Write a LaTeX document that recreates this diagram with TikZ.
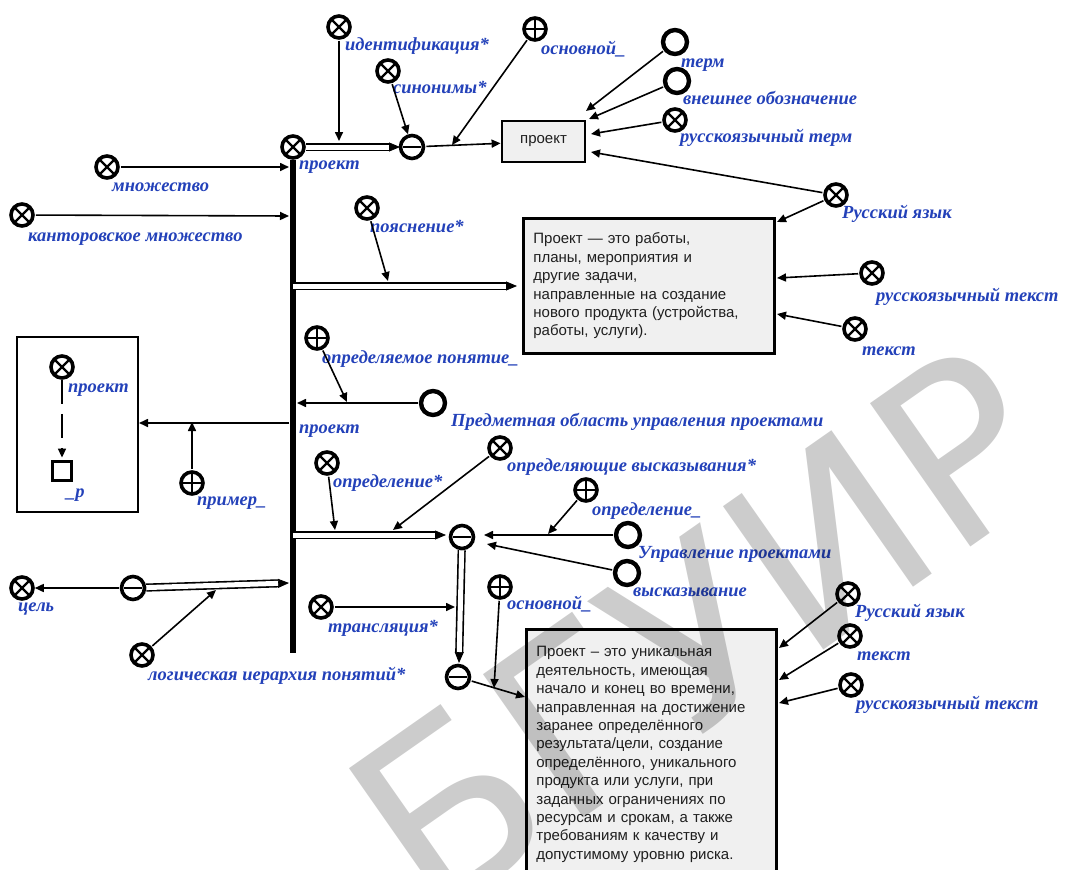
\documentclass[tikz,border=0pt]{standalone}
\usepackage{fontspec}
\setmainfont{Liberation Serif}
\newfontfamily\lblfont{Liberation Serif}
\newfontfamily\boxfont{Liberation Sans}
\newfontfamily\wmfont{DejaVu Sans}
\usetikzlibrary{arrows.meta,calc}
\definecolor{lblblue}{RGB}{35,65,185}
\definecolor{boxgray}{RGB}{240,240,240}
\begin{document}
\begin{tikzpicture}[x=1pt,y=-1pt,
  base/.style={circle,draw,fill=white,inner sep=0pt},
  ndX/.style={base,line width=3.6pt,minimum size=22pt,
    path picture={\draw[line width=2.4pt]
      ([shift={(-7,-7)}]path picture bounding box.center) -- ([shift={(7,7)}]path picture bounding box.center)
      ([shift={(-7,7)}]path picture bounding box.center) -- ([shift={(7,-7)}]path picture bounding box.center);}},
  ndP/.style={base,line width=3.6pt,minimum size=22pt,
    path picture={\draw[line width=2.4pt]
      ([shift={(-9,0)}]path picture bounding box.center) -- ([shift={(9,0)}]path picture bounding box.center)
      ([shift={(0,-9)}]path picture bounding box.center) -- ([shift={(0,9)}]path picture bounding box.center);}},
  ndT/.style={base,line width=3.6pt,minimum size=23pt,
    path picture={\draw[line width=2.8pt]
      ([shift={(-9,0)}]path picture bounding box.center) -- ([shift={(9,0)}]path picture bounding box.center);}},
  ndO/.style={base,line width=4.4pt,minimum size=24pt},
  ndS/.style={draw,fill=white,line width=3.8pt,minimum size=19pt,inner sep=0pt},
  lbl/.style={anchor=base west,inner sep=0pt,text=lblblue,font=\lblfont\bfseries\itshape\fontsize{18.5}{20}\selectfont},
  arc/.style={line width=1.6pt,-{Triangle[length=9pt,width=8pt]},shorten <=1pt},
  dbl/.style={line width=1.6pt,double=white,double distance=5pt},
  dtip/.style={line width=0.8pt,-{Triangle[length=11pt,width=9pt]}},
  txtbox/.style={draw,fill=boxgray,line width=2.8pt,inner sep=10pt,align=left,anchor=north west,
    font=\boxfont\fontsize{15}{18.4}\selectfont,text=black!88},
  bus/.style={line width=6pt}
]
\useasboundingbox (0,0) rectangle (1066,870);
\clip (0,0) rectangle (1066,870);

% ---------- nodes ----------
\node[ndX] (ident) at (339,27) {};
\node[lbl] (lident) at (345,50) {идентификация*};
\node[ndX] (syn) at (388,71) {};
\node[lbl] (lsyn) at (393,93) {синонимы*};
\node[ndP] (osn1) at (535,29) {};
\node[lbl] (losn1) at (541,54) {основной\_};
\node[ndX] (proj) at (293,147) {};
\node[lbl] (lproj) at (299,169) {проект};
\node[ndT] (tup1) at (412,147) {};
\node[draw,fill=boxgray,line width=2.8pt,minimum width=83pt,minimum height=41pt,inner sep=0pt,
  font=\boxfont\fontsize{15}{17}\selectfont,text=black!88] (boxP) at (543.5,141.5) {проект};
\node[ndO] (term) at (675,42) {};
\node[lbl] (lterm) at (681,67) {терм};
\node[ndO] (vnesh) at (677,81) {};
\node[lbl] (lvnesh) at (683,104) {внешнее обозначение};
\node[ndX] (rterm) at (675,120) {};
\node[lbl] (lrterm) at (680,142) {русскоязычный терм};
\node[ndX] (rus1) at (836,195) {};
\node[lbl] (lrus1) at (842,218) {Русский язык};
\node[ndX] (mnozh) at (107,167) {};
\node[lbl] (lmnozh) at (112,191) {множество};
\node[ndX] (kant) at (22,215) {};
\node[lbl] (lkant) at (28,241) {канторовское множество};
\node[ndX] (poyasn) at (367,208) {};
\node[lbl] (lpoyasn) at (370,232) {пояснение*};
\node[txtbox,minimum width=251pt,minimum height=135pt,text width=231pt] (box1) at (522,217)
  {Проект — это работы,\\планы, мероприятия и\\другие задачи,\\направленные на создание\\нового продукта (устройства,\\работы, услуги).};
\node[ndX] (rtext1) at (872,273) {};
\node[lbl] (lrtext1) at (876,301) {русскоязычный текст};
\node[ndX] (text1) at (855,329) {};
\node[lbl] (ltext1) at (862,355) {текст};
\node[ndP] (oprpon) at (317,338) {};
\node[lbl] (loprpon) at (322,363) {определяемое понятие\_};
\node[ndO] (predm) at (433,403) {};
\node[lbl] (lpredm) at (451,426) {Предметная область управления проектами};
\node[lbl] (lbus) at (299,433) {проект};
\node[draw,line width=2pt,minimum width=121pt,minimum height=175pt,inner sep=0pt] (lbox) at (77.5,424.5) {};
\node[ndX] (inproj) at (62,367) {};
\node[lbl] (linproj) at (68,392) {проект};
\node[ndS] (sq) at (62,471) {};
\node[lbl] (lsq) at (66,497) {\_p};
\node[ndP] (primer) at (192,483) {};
\node[lbl] (lprimer) at (197,505) {пример\_};
\node[ndX] (opredS) at (327,463) {};
\node[lbl] (lopredS) at (333,487) {определение*};
\node[ndX] (opredv) at (500,448) {};
\node[lbl] (lopredv) at (507,471) {определяющие высказывания*};
\node[ndT] (tup2) at (462,537) {};
\node[ndP] (opredU) at (586,490) {};
\node[lbl] (lopredU) at (592,515) {определение\_};
\node[ndO] (upr) at (628,535) {};
\node[lbl] (lupr) at (638,558) {Управление проектами};
\node[ndO] (vysk) at (627,573) {};
\node[lbl] (lvysk) at (633,596) {высказывание};
\node[ndX] (transl) at (321,607) {};
\node[lbl] (ltransl) at (328,632) {трансляция*};
\node[ndP] (osn2) at (500,587) {};
\node[lbl] (losn2) at (507,609) {основной\_};
\node[ndT] (tup3) at (458,677) {};
\node[ndX] (rus2) at (848,594) {};
\node[lbl] (lrus2) at (855,617) {Русский язык};
\node[ndX] (text2) at (850,636) {};
\node[lbl] (ltext2) at (857,660) {текст};
\node[ndX] (rtext2) at (851,685) {};
\node[lbl] (lrtext2) at (856,709) {русскоязычный текст};
\node[txtbox,minimum width=250pt,minimum height=250pt,text width=230pt] (box2) at (525,628)
  {Проект – это уникальная\\деятельность, имеющая\\начало и конец во времени,\\направленная на достижение\\заранее определённого\\результата/цели, создание\\определённого, уникального\\продукта или услуги, при\\заданных ограничениях по\\ресурсам и срокам, а также\\требованиям к качеству и\\допустимому уровню риска.};
\node[ndX] (cel) at (22,588) {};
\node[lbl] (lcel) at (18,611) {цель};
\node[ndT] (tup4) at (133,588) {};
\node[ndX] (logic) at (142,655) {};
\node[lbl] (llogic) at (148,680) {логическая иерархия понятий*};

% ---------- bus ----------
\coordinate (busTop) at (293,160);
\coordinate (busBot) at (293,653);
\draw[bus] (busTop) -- (busBot);
\coordinate (bMn) at (289,167);
\coordinate (bKa) at (289,216);
\coordinate (bPo) at (293,286);
\coordinate (bPr) at (297,403);
\coordinate (bEx) at (290,423);
\coordinate (bOp) at (293,535);
\coordinate (bLo) at (289,583);

% ---------- connectors ----------
% common arcs (double lines)
\coordinate (e1) at (400,147);
\draw[dtip] (proj) -- (e1);
\draw[dbl,shorten >=11pt] (proj) -- (e1);
\coordinate (e2) at (517,286);
\draw[dtip] (bPo) -- (e2);
\draw[dbl,shorten >=11pt] (bPo) -- (e2);
\coordinate (e3) at (446,535);
\draw[dtip] (bOp) -- (e3);
\draw[dbl,shorten >=11pt] (bOp) -- (e3);
\coordinate (e4) at (459,663);
\draw[dtip] (tup2) -- (e4);
\draw[dbl,shorten >=11pt] (tup2) -- (e4);
\draw[dtip] (tup4) -- (bLo);
\draw[dbl,shorten >=11pt] (tup4) -- (bLo);

% arcs onto arcs
\coordinate (c1) at (339,141);
\draw[arc] (ident) -- (c1);
\coordinate (c2) at (452,145);
\draw[arc] (osn1) -- (c2);
\coordinate (c3) at (388,281);
\draw[arc] (poyasn) -- (c3);
\coordinate (c4) at (347,402);
\draw[arc] (oprpon) -- (c4);
\coordinate (c5) at (192,422);
\draw[arc] (primer) -- (c5);
\coordinate (c6) at (335,530);
\draw[arc] (opredS) -- (c6);
\coordinate (c7) at (393,530);
\draw[arc] (opredv) -- (c7);
\coordinate (c8) at (548,534);
\draw[arc] (opredU) -- (c8);
\coordinate (c9) at (455,607);
\draw[arc] (transl) -- (c9);
\coordinate (c10) at (494,688);
\draw[arc] (osn2) -- (c10);
\coordinate (c11) at (216,590);
\draw[arc] (logic) -- (c11);

% ordinary arcs
\draw[arc] (syn) -- (tup1);
\draw[arc] (tup1) -- (boxP);
\coordinate (tP1) at (586,111);
\coordinate (tP2) at (589,119);
\coordinate (tP3) at (591,134);
\coordinate (tP4) at (591,152);
\draw[arc] (term) -- (tP1);
\draw[arc] (vnesh) -- (tP2);
\draw[arc] (rterm) -- (tP3);
\draw[arc] (rus1) -- (tP4);
\coordinate (tB1) at (777,222);
\coordinate (tB2) at (777,278);
\coordinate (tB3) at (777,314);
\draw[arc] (rus1) -- (tB1);
\draw[arc] (rtext1) -- (tB2);
\draw[arc] (text1) -- (tB3);
\draw[arc] (mnozh) -- (bMn);
\draw[arc] (kant) -- (bKa);
\draw[arc] (predm) -- (bPr);
\draw[arc] (bEx) -- (lbox.east |- bEx);
\draw[line width=1.6pt,dash pattern=on 24pt off 10pt,-{Triangle[length=9pt,width=8pt]},shorten >=2pt] (inproj) -- (sq);
\coordinate (tU1) at (484,535);
\coordinate (tU2) at (487,544);
\draw[arc] (upr) -- (tU1);
\draw[arc] (vysk) -- (tU2);
\coordinate (tC1) at (779,648);
\coordinate (tC2) at (779,680);
\coordinate (tC3) at (779,703);
\draw[arc] (tup3) -- (box2.west |- 0,697);
\draw[arc] (rus2) -- (tC1);
\draw[arc] (text2) -- (tC2);
\draw[arc] (rtext2) -- (tC3);
\draw[arc] (tup4) -- (cel);

% watermark (on top, translucent)
\node[rotate=35,text=black,opacity=0.2,font=\wmfont\fontsize{240}{240}\selectfont,inner sep=0pt] (wm) at (700,630) {БГУИР};
\end{tikzpicture}
\end{document}
